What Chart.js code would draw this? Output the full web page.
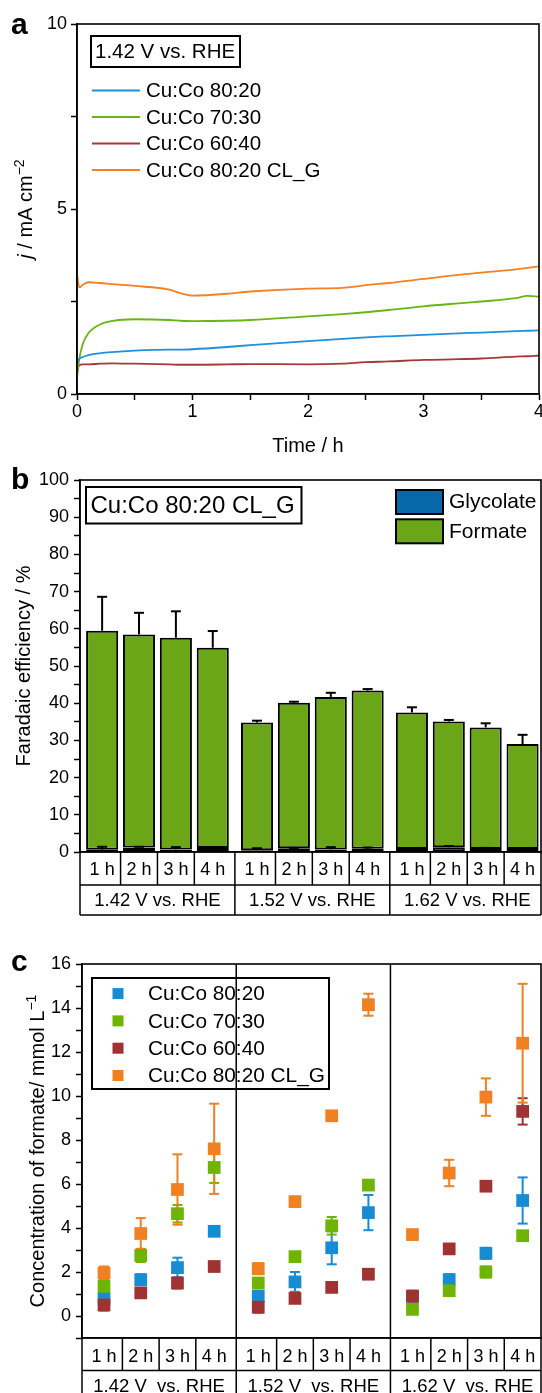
<!DOCTYPE html>
<html>
<head>
<meta charset="utf-8">
<title>Cu:Co chronoamperometry, faradaic efficiency and formate concentration</title>
<script src="https://cdn.jsdelivr.net/npm/chart.js@4.4.1/dist/chart.umd.min.js"></script>
<style>
  html, body { margin: 0; padding: 0; background: #fff; overflow: hidden; }
  body { width: 542px; height: 1393px; position: relative; }
  .panel { position: absolute; left: 0; }
</style>
</head>
<body>
<canvas id="chartA" class="panel" style="top:0" width="560" height="460"></canvas>
<canvas id="chartB" class="panel" style="top:460px" width="560" height="460"></canvas>
<canvas id="chartC" class="panel" style="top:920px" width="560" height="473"></canvas>
<script>
// ---------- panel a: current density at 1.42 V vs. RHE ----------
const timeH    = [0, 0.02, 0.05, 0.1, 0.2, 0.3, 0.5, 0.8, 0.9, 1.0, 1.3, 1.5, 2.0, 2.3, 2.5, 2.7, 3.0, 3.3, 3.5, 3.8, 3.9, 4.0];
const j8020    = [0.85, 0.95, 1.0, 1.05, 1.1, 1.13, 1.17, 1.2, 1.2, 1.21, 1.27, 1.32, 1.43, 1.49, 1.53, 1.56, 1.6, 1.64, 1.66, 1.7, 1.71, 1.72];
const j7030    = [0.43, 0.95, 1.35, 1.65, 1.88, 1.97, 2.02, 2.0, 1.98, 1.97, 1.98, 2.0, 2.1, 2.16, 2.21, 2.27, 2.37, 2.45, 2.5, 2.59, 2.65, 2.63];
const j6040    = [0.62, 0.78, 0.8, 0.8, 0.82, 0.83, 0.82, 0.8, 0.79, 0.79, 0.8, 0.81, 0.8, 0.82, 0.86, 0.88, 0.92, 0.94, 0.96, 1.01, 1.02, 1.04];
const j8020clg = [3.25, 2.88, 2.95, 3.02, 3.0, 2.97, 2.92, 2.82, 2.72, 2.66, 2.71, 2.77, 2.85, 2.87, 2.94, 3.0, 3.11, 3.22, 3.28, 3.37, 3.41, 3.45];
const sampleNames = ['Cu:Co 80:20', 'Cu:Co 70:30', 'Cu:Co 60:40', 'Cu:Co 80:20 CL_G'];

// ---------- categories shared by b and c ----------
const hourLabels = ['1 h', '2 h', '3 h', '4 h'];
const potentialLabels = ['1.42 V vs. RHE', '1.52 V vs. RHE', '1.62 V vs. RHE'];

// ---------- panel b: faradaic efficiency, Cu:Co 80:20 CL_G ----------
const feGlycolate    = [0.6, 1.2, 0.7, 1.1, 0.5, 1.0, 0.7, 0.9, 0.8, 1.3, 0.8, 0.8];
const feGlycolateErr = [0.8, 0.2, 0.6, 0.2, 0.5, 0.1, 0.6, 0.3, 0.2, 0.3, 0.3, 0.1];
const feFormate      = [58.9, 57.3, 56.9, 53.8, 34.3, 39.1, 41.0, 42.5, 36.7, 33.8, 32.7, 28.2];
const feFormateErr   = [9.1, 5.8, 7.1, 4.5, 0.5, 0.3, 1.1, 0.4, 1.4, 0.4, 1.1, 2.5];

// ---------- panel c: formate concentration / mmol L-1 ----------
const c8020       = [0.8, 1.65, 2.2, 3.85, 0.9, 1.55, 3.1, 4.7, 0.9, 1.65, 2.85, 5.25];
const c8020Err    = [0.2, 0.25, 0.45, 0.2, 0.25, 0.45, 0.75, 0.8, 0.2, 0.25, 0.25, 1.05];
const c7030       = [1.35, 2.75, 4.65, 6.75, 1.5, 2.7, 4.1, 5.95, 0.3, 1.15, 2.0, 3.65];
const c7030Err    = [0.2, 0.3, 0.4, 0.7, 0.15, 0.2, 0.4, 0.15, 0.2, 0.15, 0.25, 0.15];
const c6040       = [0.5, 1.05, 1.5, 2.25, 0.4, 0.8, 1.3, 1.9, 0.9, 3.05, 5.9, 9.3];
const c6040Err    = [0.25, 0.2, 0.25, 0.2, 0.25, 0.2, 0.2, 0.2, 0.25, 0.2, 0.2, 0.6];
const c8020clg    = [1.95, 3.75, 5.75, 7.6, 2.15, 5.2, 9.1, 14.15, 3.7, 6.5, 9.95, 12.4];
const c8020clgErr = [0.3, 0.7, 1.6, 2.05, 0.25, 0.15, 0.2, 0.5, 0.15, 0.6, 0.85, 2.7];

const FONT = '"Liberation Sans", Arial, sans-serif';
Chart.defaults.font.family = FONT;
Chart.defaults.font.size = 18;
Chart.defaults.color = '#000';

// x position of each bar / point: 4 hours per potential, small gap between potentials
const slotX = [];
potentialLabels.forEach((p, g) => hourLabels.forEach((h, k) => slotX.push(g * 4.2 + k)));

function drawFrame(ctx, a) {
  ctx.save();
  ctx.strokeStyle = '#000';
  ctx.lineWidth = 1.6;
  ctx.strokeRect(a.left, a.top, a.right - a.left, a.bottom - a.top);
  ctx.restore();
}

function drawLetter(ctx, letter, y) {
  ctx.save();
  ctx.font = 'bold 30px ' + FONT;
  ctx.fillStyle = '#000';
  ctx.fillText(letter, 11, y);
  ctx.restore();
}

// rotated axis title built from pieces (italic / superscript)
function drawRotTitle(ctx, cx, cy, parts) {
  ctx.save();
  ctx.translate(cx, cy);
  ctx.rotate(-Math.PI / 2);
  ctx.fillStyle = '#000';
  let total = 0;
  parts.forEach(p => { ctx.font = p.font; p.w = ctx.measureText(p.text).width; total += p.w; });
  let x = -total / 2;
  parts.forEach(p => { ctx.font = p.font; ctx.fillText(p.text, x, p.dy); x += p.w; });
  ctx.restore();
}

function line(ctx, x1, y1, x2, y2) {
  ctx.beginPath(); ctx.moveTo(x1, y1); ctx.lineTo(x2, y2); ctx.stroke();
}

// the two-row label table under panels b and c
function drawTable(chart, row1, row2, groupText, dividerFromTop) {
  const ctx = chart.ctx, a = chart.chartArea, xs = chart.scales.x;
  const y0 = a.bottom, y1 = y0 + row1, y2 = y1 + row2;
  ctx.save();
  ctx.strokeStyle = '#000';
  ctx.lineWidth = 1.5;
  line(ctx, a.left, y1, a.right, y1);
  line(ctx, a.left, y2, a.right, y2);
  line(ctx, a.left, y0, a.left, y2);
  line(ctx, a.right, y0, a.right, y2);
  for (let k = 0; k < slotX.length - 1; k++) {
    const bx = xs.getPixelForValue((slotX[k] + slotX[k + 1]) / 2);
    if (k % 4 === 3) line(ctx, bx, dividerFromTop ? a.top : y0, bx, y2);
    else line(ctx, bx, y0, bx, y1);
  }
  ctx.font = '18.5px ' + FONT;
  ctx.fillStyle = '#000';
  ctx.textAlign = 'center';
  ctx.textBaseline = 'middle';
  groupText.forEach((t, g) => {
    const cx = xs.getPixelForValue((slotX[g * 4] + slotX[g * 4 + 3]) / 2);
    ctx.fillText(t, cx, (y1 + y2) / 2 + 1);
  });
  ctx.restore();
}

function leftAxis(min, max, step, labelEvery, width, pad) {
  return {
    min: min, max: max,
    ticks: { stepSize: step, autoSkip: false, padding: pad,
             callback: v => (Math.abs(v % labelEvery) < 1e-9 && v >= 0) ? v : '' },
    grid: { drawOnChartArea: false, tickLength: 6, tickWidth: 1.5, tickColor: '#000' },
    border: { color: '#000', width: 1.6 },
    afterFit: s => { s.width = width; }
  };
}

// ================= panel a =================
const lineColors = ['#1e90dc', '#6ab414', '#a83838', '#f58220'];
const pts = ys => timeH.map((t, i) => ({ x: t, y: ys[i] }));

new Chart(document.getElementById('chartA'), {
  type: 'line',
  data: {
    datasets: [j8020, j7030, j6040, j8020clg].map((ys, i) => ({
      label: sampleNames[i], data: pts(ys), borderColor: lineColors[i],
      borderWidth: 1.8, pointRadius: 0, cubicInterpolationMode: 'monotone'
    }))
  },
  options: {
    responsive: false, animation: false,
    layout: { padding: { top: 24, right: 21, left: 0, bottom: 0 } },
    plugins: { legend: { display: false }, tooltip: { enabled: false } },
    scales: {
      x: {
        type: 'linear', min: 0, max: 4,
        ticks: { stepSize: 0.5, autoSkip: false, maxRotation: 0, padding: 1,
                 callback: v => Number.isInteger(v) ? v : '' },
        grid: { drawOnChartArea: false, tickLength: 6, tickWidth: 1.5, tickColor: '#000' },
        border: { color: '#000', width: 1.6 },
        title: { display: true, text: 'Time / h', font: { size: 20 }, padding: { top: 0, bottom: 2 } },
        afterFit: s => { s.height = 66; }
      },
      y: leftAxis(0, 10, 2.5, 5, 77, 4)
    }
  },
  plugins: [{
    id: 'panelA',
    afterDraw(chart) {
      const ctx = chart.ctx, a = chart.chartArea;
      drawFrame(ctx, a);
      ctx.save();
      ctx.strokeStyle = '#000';
      ctx.lineWidth = 2;
      ctx.strokeRect(91, 36, 149, 31);
      ctx.font = '20.5px ' + FONT;
      ctx.fillStyle = '#000';
      ctx.textBaseline = 'middle';
      ctx.fillText('1.42 V vs. RHE', 95, 52);
      chart.data.datasets.forEach((ds, i) => {
        const y = 90.5 + i * 26.5;
        ctx.strokeStyle = ds.borderColor;
        line(ctx, 92, y, 140, y);
        ctx.fillText(ds.label, 146, y + 1);
      });
      ctx.restore();
      drawRotTitle(ctx, 25, (a.top + a.bottom) / 2, [
        { text: 'j', font: 'italic 20px ' + FONT, dy: 7 },
        { text: ' / mA cm', font: '20px ' + FONT, dy: 7 },
        { text: '\u22122', font: '14px ' + FONT, dy: -1 }
      ]);
      drawLetter(ctx, 'a', 34);
    }
  }]
});

// ================= panel b =================
const glyColor = '#0868a8', formColor = '#6aa617';

new Chart(document.getElementById('chartB'), {
  type: 'bar',
  data: {
    datasets: [
      { label: 'Glycolate', data: slotX.map((x, i) => ({ x: x, y: feGlycolate[i] })),
        backgroundColor: glyColor },
      { label: 'Formate', data: slotX.map((x, i) => ({ x: x, y: feFormate[i] })),
        backgroundColor: formColor }
    ].map(d => Object.assign(d, { borderColor: '#000', borderWidth: 2, borderSkipped: false,
                                  barPercentage: 0.87, categoryPercentage: 1 }))
  },
  options: {
    responsive: false, animation: false,
    layout: { padding: { top: 20, right: 19, left: 0, bottom: 0 } },
    plugins: { legend: { display: false }, tooltip: { enabled: false } },
    scales: {
      x: {
        type: 'linear', stacked: true, offset: false, min: -0.6, max: 11.9,
        grid: { display: false, drawTicks: false, offset: false },
        border: { color: '#000', width: 1.6 },
        afterBuildTicks: s => { s.ticks = slotX.map(v => ({ value: v })); },
        ticks: { autoSkip: false, maxRotation: 0, padding: 7, callback: (v, i) => hourLabels[i % 4] },
        afterFit: s => { s.height = 68; }
      },
      y: Object.assign(leftAxis(0, 100, 5, 10, 80, 5), {
        stacked: true,
        title: { display: true, text: 'Faradaic efficiency / %', font: { size: 20 }, padding: { top: 12 } }
      })
    }
  },
  plugins: [{
    id: 'panelB',
    afterDatasetsDraw(chart) {
      const ctx = chart.ctx, xs = chart.scales.x, ys = chart.scales.y;
      ctx.save();
      ctx.strokeStyle = '#000';
      ctx.lineWidth = 2;
      slotX.forEach((xv, i) => {
        const x = xs.getPixelForValue(xv);
        const bars = [[feGlycolate[i], feGlycolateErr[i]],
                      [feGlycolate[i] + feFormate[i], feFormateErr[i]]];
        bars.forEach(([top, err]) => {
          const y1 = ys.getPixelForValue(top), y2 = ys.getPixelForValue(top + err);
          line(ctx, x, y1, x, y2);
          line(ctx, x - 5, y2, x + 5, y2);
        });
      });
      ctx.restore();
    },
    afterDraw(chart) {
      const ctx = chart.ctx, a = chart.chartArea;
      drawFrame(ctx, a);
      drawTable(chart, 33, 30, potentialLabels, false);
      ctx.save();
      ctx.strokeStyle = '#000';
      ctx.lineWidth = 2;
      ctx.strokeRect(86, 27, 215.5, 36.5);
      ctx.fillStyle = '#000';
      ctx.textBaseline = 'middle';
      ctx.font = '24px ' + FONT;
      ctx.fillText('Cu:Co 80:20 CL_G', 90.5, 46.5);
      chart.data.datasets.forEach((ds, i) => {
        const y = 30 + i * 29.3;
        ctx.fillStyle = ds.backgroundColor;
        ctx.fillRect(396, y, 47, 24);
        ctx.strokeRect(396, y, 47, 24);
        ctx.fillStyle = '#000';
        ctx.font = '21px ' + FONT;
        ctx.fillText(ds.label, 449, y + 12.5);
      });
      ctx.restore();
      drawLetter(ctx, 'b', 29);
    }
  }]
});

// ================= panel c =================
const pointColors = ['#168cd2', '#6eb400', '#a03232', '#f08020'];
const concSeries = [c8020, c7030, c6040, c8020clg];
const concErrors = [c8020Err, c7030Err, c6040Err, c8020clgErr];

new Chart(document.getElementById('chartC'), {
  type: 'scatter',
  data: {
    datasets: concSeries.map((vals, s) => ({
      label: sampleNames[s],
      data: slotX.map((x, i) => ({ x: x, y: vals[i] })),
      errors: concErrors[s],
      backgroundColor: pointColors[s], borderColor: pointColors[s],
      pointStyle: 'rect', pointRadius: 9, pointBorderWidth: 0,
      order: 4 - s
    }))
  },
  options: {
    responsive: false, animation: false,
    layout: { padding: { top: 44, right: 19, left: 0, bottom: 0 } },
    plugins: { legend: { display: false }, tooltip: { enabled: false } },
    scales: {
      x: {
        type: 'linear', min: -0.6, max: 11.9,
        grid: { display: false, drawTicks: false },
        border: { color: '#000', width: 1.6 },
        afterBuildTicks: s => { s.ticks = slotX.map(v => ({ value: v })); },
        ticks: { autoSkip: false, maxRotation: 0, padding: 8, callback: (v, i) => hourLabels[i % 4] },
        afterFit: s => { s.height = 55; }
      },
      y: leftAxis(-1, 16, 1, 2, 82, 5)
    }
  },
  plugins: [{
    id: 'panelC',
    beforeDatasetsDraw(chart) {
      const ctx = chart.ctx, xs = chart.scales.x, ys = chart.scales.y;
      ctx.save();
      ctx.lineWidth = 2;
      chart.data.datasets.forEach(ds => {
        ctx.strokeStyle = ds.borderColor;
        ds.data.forEach((p, i) => {
          const x = xs.getPixelForValue(p.x);
          const yHi = ys.getPixelForValue(p.y + ds.errors[i]);
          const yLo = ys.getPixelForValue(p.y - ds.errors[i]);
          line(ctx, x, yHi, x, yLo);
          line(ctx, x - 5, yHi, x + 5, yHi);
          line(ctx, x - 5, yLo, x + 5, yLo);
        });
      });
      ctx.restore();
    },
    afterDraw(chart) {
      const ctx = chart.ctx, a = chart.chartArea;
      drawFrame(ctx, a);
      drawTable(chart, 32.5, 30, potentialLabels.map(t => t.replace(' vs.', '  vs.')), true);
      ctx.save();
      ctx.strokeStyle = '#000';
      ctx.lineWidth = 2;
      ctx.strokeRect(92, 58, 237, 111);
      ctx.textBaseline = 'middle';
      ctx.font = '20.8px ' + FONT;
      chart.data.datasets.forEach((ds, i) => {
        const y = 73.6 + i * 27.3;
        ctx.fillStyle = ds.backgroundColor;
        ctx.fillRect(112.5, y - 5.5, 11, 11);
        ctx.fillStyle = '#000';
        ctx.fillText(ds.label, 148, y + 1);
      });
      ctx.restore();
      drawRotTitle(ctx, 37, (a.top + a.bottom) / 2, [
        { text: 'Concentration of formate/ mmol L', font: '20px ' + FONT, dy: 7 },
        { text: '\u22121', font: '14px ' + FONT, dy: -1 }
      ]);
      drawLetter(ctx, 'c', 51);
    }
  }]
});
</script>
</body>
</html>
